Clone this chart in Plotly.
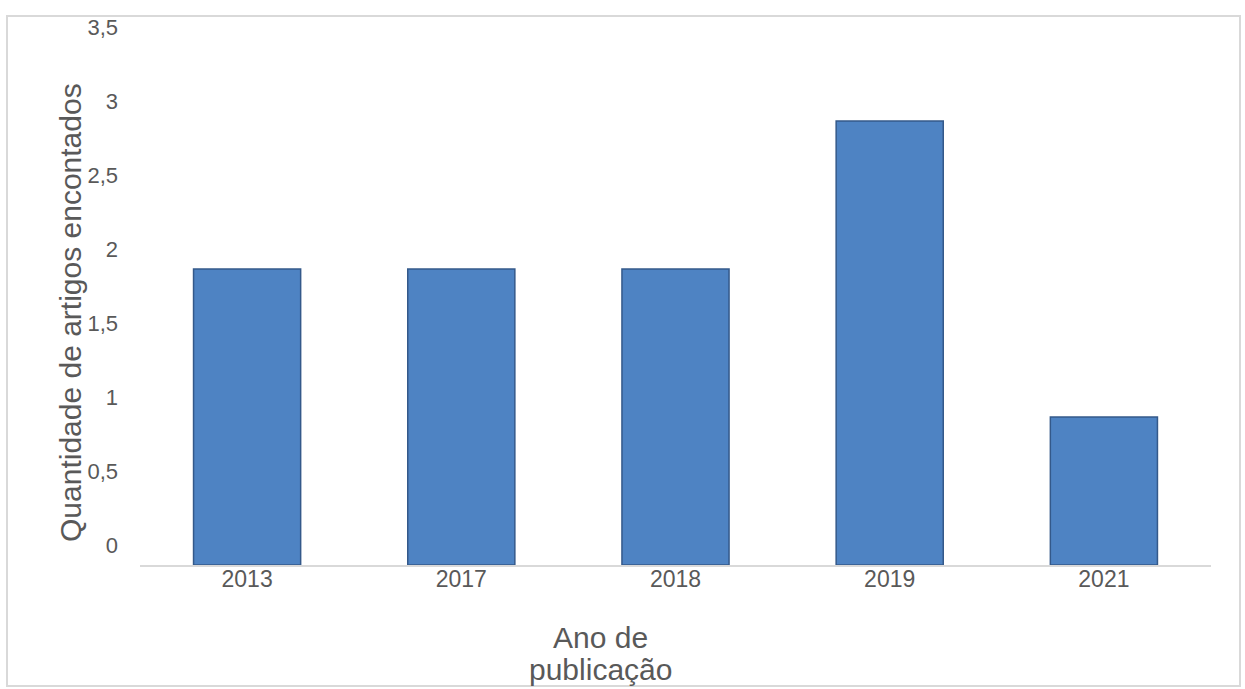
import plotly.graph_objects as go

anos = ["2013", "2017", "2018", "2019", "2021"]
quantidade = [2, 2, 2, 3, 1]
y_ticks = [0, 0.5, 1, 1.5, 2, 2.5, 3, 3.5]
y_tick_labels = ["0", "0,5", "1", "1,5", "2", "2,5", "3", "3,5"]
x_title_lines = ["Ano de", "publicação"]
y_title = "Quantidade de artigos encontados"

W, H = 1245, 689
L, R, T, B = 140, 34, 47, 124
pw, ph = W - L - R, H - T - B

def px_x(x):
    return (x - L) / pw

def px_y(y):
    return (H - B - y) / ph

fig = go.Figure()
fig.add_trace(go.Bar(
    x=anos, y=quantidade,
    marker=dict(color="#4E83C3", line=dict(color="#34598A", width=1.5)),
    width=0.5,
))

title_font = dict(size=30, color="#595959")

fig.update_layout(
    width=W, height=H,
    margin=dict(l=L, r=R, t=T, b=B),
    paper_bgcolor="white", plot_bgcolor="white",
    showlegend=False,
    font=dict(family="Liberation Sans, Arial, sans-serif", color="#595959"),
    xaxis=dict(
        type="category", showgrid=False, showline=True, linecolor="#D9D9D9", linewidth=1.5,
        ticks="", tickfont=dict(size=23, color="#595959"), ticklabelstandoff=-7,
    ),
    yaxis=dict(
        range=[0, 3.5], tickvals=y_ticks, ticktext=y_tick_labels,
        showgrid=False, showline=False, zeroline=False, ticks="",
        tickfont=dict(size=22, color="#595959"), ticklabelshift=-20, ticklabelstandoff=21,
    ),
    shapes=[
        dict(type="rect", xref="paper", yref="paper",
             x0=px_x(7), x1=px_x(1240), y0=px_y(686), y1=px_y(16),
             line=dict(color="#D9D9D9", width=2), fillcolor="rgba(0,0,0,0)", layer="below"),
    ],
    annotations=[
        dict(text=y_title, xref="paper", yref="paper", textangle=-90,
             x=px_x(70), y=px_y(313), xanchor="center", yanchor="middle",
             showarrow=False, font=title_font),
        dict(text=x_title_lines[0], xref="paper", yref="paper",
             x=px_x(600), y=px_y(637), xanchor="center", yanchor="middle",
             showarrow=False, font=title_font),
        dict(text=x_title_lines[1], xref="paper", yref="paper",
             x=px_x(600), y=px_y(669), xanchor="center", yanchor="middle",
             showarrow=False, font=title_font),
    ],
)

fig.write_html("out.html", config={"displayModeBar": False},
               post_script="document.body.style.margin='0';document.body.style.overflow='hidden';")
